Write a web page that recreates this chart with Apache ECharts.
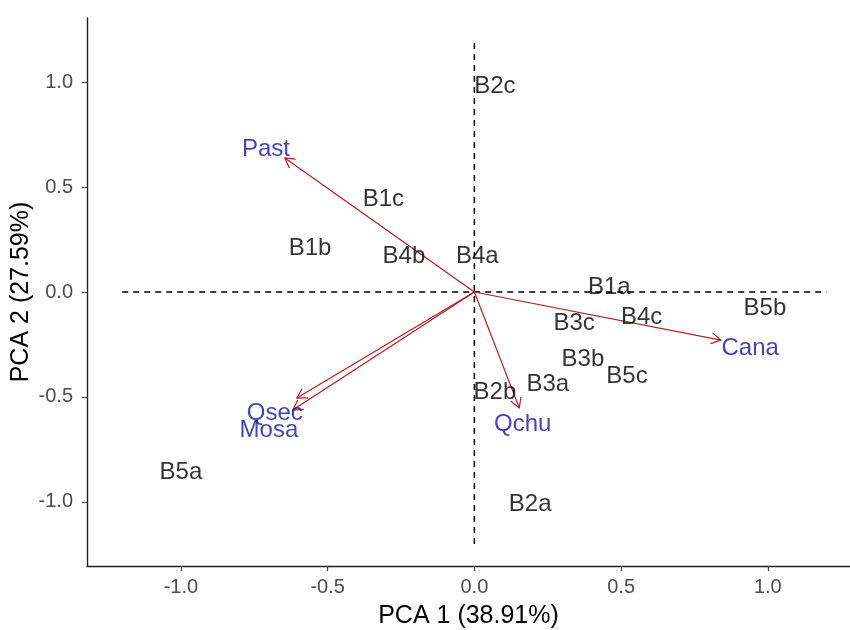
<!DOCTYPE html>
<html>
<head>
<meta charset="utf-8">
<script src="https://cdn.jsdelivr.net/npm/echarts@6/dist/echarts.min.js"></script>
<style>html,body{margin:0;padding:0;background:#fff}#c{width:850px;height:630px}</style>
</head>
<body>
<div id="c"></div>
<script>
// Sample scores (PCA 1, PCA 2)
const sampleNames = ["B2c","B1c","B1b","B4b","B4a","B1a","B5b","B4c","B3c","B3b","B5c","B3a","B2b","B5a","B2a"];
const sampleX = [0.07,-0.31,-0.56,-0.24,0.01,0.46,0.99,0.57,0.34,0.37,0.52,0.25,0.07,-1.0,0.19];
const sampleY = [0.98,0.44,0.21,0.17,0.17,0.02,-0.08,-0.12,-0.15,-0.32,-0.40,-0.44,-0.48,-0.86,-1.01];

// Variable loadings (arrow tips) and label positions
const varNames = ["Past","Cana","Qchu","Qsec","Mosa"];
const varX = [-0.646,0.84,0.153,-0.605,-0.619];
const varY = [0.638,-0.229,-0.552,-0.505,-0.562];
const varLabelX = [-0.71,0.94,0.165,-0.68,-0.70];
const varLabelY = [0.68,-0.27,-0.63,-0.58,-0.66];

// Axis ticks
const xTicks = [-1.0,-0.5,0.0,0.5,1.0];
const yTicks = [-1.0,-0.5,0.0,0.5,1.0];
const refExtent = 1.2;

const FONT = "Liberation Sans";
const chart = echarts.init(document.getElementById('c'), null, {renderer:'canvas'});

const arrowData = varNames.map((n,i)=>[0,0,varX[i],varY[i]]);

chart.setOption({
  animation:false,
  backgroundColor:'#ffffff',
  grid:{left:87,right:0,top:18,bottom:64,containLabel:false,outerBoundsMode:'none'},
  xAxis:{
    type:'value',min:-1.32,max:1.28,
    splitLine:{show:false},
    axisLine:{show:true,onZero:false,lineStyle:{color:'#222',width:1.4}},
    axisTick:{show:true,length:5,customValues:xTicks,lineStyle:{color:'#444',width:1.2}},
    axisLabel:{customValues:xTicks,color:'#4d4d4d',fontFamily:FONT,fontSize:20,margin:11,
      formatter:v=>v.toFixed(1)},
    name:'PCA 1 (38.91%)',nameLocation:'middle',nameGap:38,nameMoveOverlap:false,
    nameTextStyle:{color:'#000',fontFamily:FONT,fontSize:25}
  },
  yAxis:{
    type:'value',min:-1.305,max:1.305,
    splitLine:{show:false},
    axisLine:{show:true,onZero:false,lineStyle:{color:'#222',width:1.4}},
    axisTick:{show:true,length:5,customValues:yTicks,lineStyle:{color:'#444',width:1.2}},
    axisLabel:{customValues:yTicks,color:'#4d4d4d',fontFamily:FONT,fontSize:20,margin:14,
      formatter:v=>v.toFixed(1)},
    name:'PCA 2 (27.59%)',nameLocation:'middle',nameGap:53,nameRotate:90,nameMoveOverlap:false,
    nameTextStyle:{color:'#000',fontFamily:FONT,fontSize:25}
  },
  series:[
    {type:'line',data:[[-refExtent,0],[refExtent,0]],symbol:'none',silent:true,
      lineStyle:{color:'#000',width:1.5,type:[6,5]},z:1},
    {type:'line',data:[[0,-refExtent],[0,refExtent]],symbol:'none',silent:true,
      lineStyle:{color:'#000',width:1.5,type:[6,5]},z:1},
    {type:'custom',coordinateSystem:'cartesian2d',z:3,silent:true,
      data:arrowData,
      renderItem:function(params,api){
        const p0=api.coord([api.value(0),api.value(1)]);
        const p1=api.coord([api.value(2),api.value(3)]);
        const ang=Math.atan2(p1[1]-p0[1],p1[0]-p0[0]);
        const L=11,a=Math.PI/6;
        const h1=[p1[0]-L*Math.cos(ang-a),p1[1]-L*Math.sin(ang-a)];
        const h2=[p1[0]-L*Math.cos(ang+a),p1[1]-L*Math.sin(ang+a)];
        const st={stroke:'#b02020',lineWidth:1.2,fill:null};
        return {type:'group',children:[
          {type:'line',shape:{x1:p0[0],y1:p0[1],x2:p1[0],y2:p1[1]},style:st},
          {type:'polyline',shape:{points:[h1,p1,h2]},style:st}
        ]};
      }
    },
    {type:'scatter',symbolSize:0,z:4,silent:true,
      data:sampleNames.map((n,i)=>({name:n,value:[sampleX[i],sampleY[i]]})),
      label:{show:true,position:'inside',formatter:'{b}',color:'#000',fontFamily:FONT,fontSize:24}
    },
    {type:'scatter',symbolSize:0,z:5,silent:true,
      data:varNames.map((n,i)=>({name:n,value:[varLabelX[i],varLabelY[i]]})),
      label:{show:true,position:'inside',formatter:'{b}',color:'#1414a0',fontFamily:FONT,fontSize:24}
    }
  ]
});
</script>
</body>
</html>
